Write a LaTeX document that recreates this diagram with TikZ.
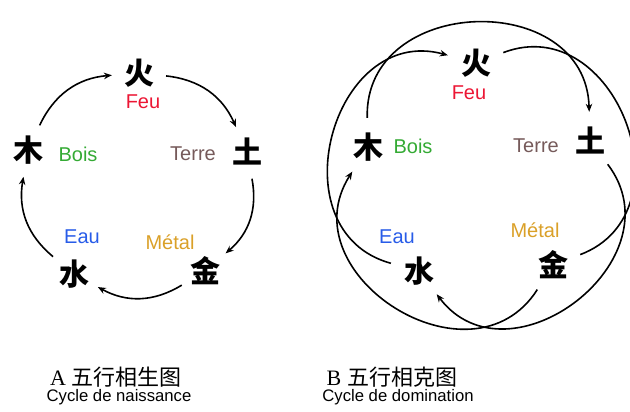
\documentclass[tikz,border=0pt]{standalone}
\usepackage{fontspec}
\setmainfont{Liberation Serif}
\setsansfont{Liberation Sans}
\newfontfamily\cjk{Noto Sans CJK SC}
\usetikzlibrary{arrows.meta}
\definecolor{feu}{RGB}{236,22,52}
\definecolor{bois}{RGB}{52,170,52}
\definecolor{terre}{RGB}{118,90,90}
\definecolor{eau}{RGB}{40,92,232}
\definecolor{metal}{RGB}{218,160,40}
\tikzset{
  elem/.style={circle, inner sep=0pt, minimum size=#1, font=\cjk\bfseries\fontsize{30}{30}\selectfont},
  elem/.default=54pt,
  tag/.style={font=\sffamily\fontsize{20}{20}\selectfont},
  line/.style={line width=1.6pt},
  link/.style={line, -{Stealth[length=8pt,width=6.5pt]}},
  title/.style={font=\fontsize{22}{22}\selectfont},
  sub/.style={font=\sffamily\fontsize{16.7}{16.7}\selectfont}
}

\begin{document}
\begin{tikzpicture}[x=1pt,y=1pt]
            \useasboundingbox (0,0) rectangle (630,412);
            % A: cycle de naissance
            \draw (139,339) node[elem] (huo) {火};
            \draw (247,260) node[elem] (tu) {土};
            \draw (205,141) node[elem] (jin) {金};
            \draw (74,138)  node[elem] (shui) {水};
            \draw (28,262)  node[elem] (mu) {木};
            \node[tag] at (143,310) {\textcolor{feu}{Feu}};
            \node[tag] at (193,258) {\textcolor{terre}{Terre}};
            \node[tag] at (78,258)  {\textcolor{bois}{Bois}};
            \node[tag] at (82,175)  {\textcolor{eau}{Eau}};
            \node[tag] at (170,170) {\textcolor{metal}{Métal}};
            \draw[link] (mu) edge[bend left=30] (huo)
                  (huo) edge[bend left=30] (tu)
                  (tu) edge[bend left=30] (jin)
                  (jin) edge[bend left=30] (shui)
                  (shui) edge[bend left=30] (mu);
            \node[title] at (116,35) {A\hspace{6pt}{\cjk 五行相生图}};
            \node[sub] at (119,15) {Cycle de naissance};
            % B: cycle de domination
            \draw (476,349) node[elem=58pt] (huo2) {火};
            \draw (590,271) node[elem=58pt] (tu2) {土};
            \draw (553,147) node[elem=58pt] (jin2) {金};
            \draw (419,141) node[elem=58pt] (shui2) {水};
            \draw (368,265) node[elem=58pt] (mu2) {木};
            \node[tag] at (469,319) {\textcolor{feu}{Feu}};
            \node[tag] at (536,266) {\textcolor{terre}{Terre}};
            \node[tag] at (413,266) {\textcolor{bois}{Bois}};
            \node[tag] at (397,175) {\textcolor{eau}{Eau}};
            \node[tag] at (535,182) {\textcolor{metal}{Métal}};
            \draw[link] (mu2) edge[bend left=90, looseness=1.42] (tu2)
                  (tu2) edge[bend left=90, looseness=1.42] (shui2)
                  (jin2) edge[bend left=90, looseness=1.42] (mu2)
                  (shui2) edge[bend left=90, looseness=1.42] (huo2);
            \draw[line] (huo2) to[bend left=90, looseness=1.42] (jin2);
            \node[title] at (392,35) {B\hspace{6pt}{\cjk 五行相克图}};
            \node[sub] at (398,15) {Cycle de domination};
\end{tikzpicture}
\end{document}
